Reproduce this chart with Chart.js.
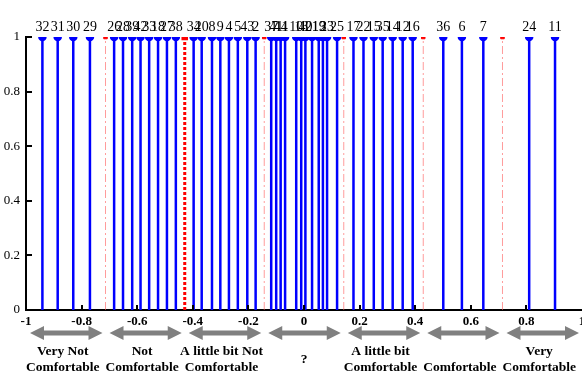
<!DOCTYPE html>
<html lang="en">
  <head>
    <meta charset="UTF-8" />
    <title>Comfort votes</title>
    <script src="https://cdn.jsdelivr.net/npm/chart.js"></script>
    <style>
      body {
        margin: 0;
        background-color: #ffffff;
      }
      .chart-box {
        position: relative;
        width: 582px;
        height: 376px;
      }
    </style>
  </head>
  <body>
    <div class="chart-box">
      <canvas id="stemChart"></canvas>
    </div>

    <script>
      // vote positions on the comfort scale (-1 .. 1), each stem has height 1
      const stemX = [
        -0.941, -0.886, -0.83, -0.77,
        -0.683, -0.651, -0.618, -0.588, -0.557, -0.525, -0.493, -0.461,
        -0.397, -0.368, -0.331, -0.301, -0.27, -0.238, -0.204, -0.174,
        -0.118, -0.1, -0.084, -0.068, -0.028, -0.01, 0.005, 0.029, 0.053, 0.068, 0.083, 0.119,
        0.178, 0.214, 0.251, 0.283, 0.319, 0.355, 0.391,
        0.501, 0.568, 0.645,
        0.81, 0.903,
      ];
      const stemLabels = [
        "32", "31", "30", "29",
        "26", "28", "39", "42", "33", "18", "27", "38",
        "34", "20", "8", "9", "4", "5", "43", "2",
        "37", "41", "44", "1", "10", "13", "40", "21", "19", "3", "23", "25",
        "17", "22", "15", "35", "14", "12", "16",
        "36", "6", "7",
        "24", "11",
      ];
      // red class boundaries
      const boundaries = [-0.714, -0.429, -0.143, 0.143, 0.429, 0.714];
      const categoryLabels = [
        ["Very Not", "Comfortable"],
        ["Not", "Comfortable"],
        ["A little bit Not", "Comfortable"],
        ["?"],
        ["A little bit", "Comfortable"],
        ["", "Comfortable"],
        ["Very", "Comfortable"],
      ];
      const xTicks = [-0.8, -0.6, -0.4, -0.2, 0, 0.2, 0.4, 0.6, 0.8];
      const yTicks = [0.2, 0.4, 0.6, 0.8, 1];

      const SERIF = "'Liberation Serif', 'DejaVu Serif', serif";

      function stemPoints(xs) {
        const pts = [];
        xs.forEach((x) => {
          pts.push({ x: x, y: 0 }, { x: x, y: 1 }, { x: x, y: null });
        });
        return pts;
      }

      function shortNum(v) {
        return String(Number(v.toFixed(1)));
      }

      // labels above the stems, inward tick marks, arrows + class names
      const decorations = {
        id: "decorations",
        afterDatasetsDraw(chart) {
          const ctx = chart.ctx;
          const xs = chart.scales.x;
          const ys = chart.scales.y;
          const top = ys.getPixelForValue(1);
          const bottom = ys.getPixelForValue(0);
          const left = xs.getPixelForValue(-1);
          ctx.save();

          // numbers above stems
          ctx.fillStyle = "#000";
          ctx.font = "14px " + SERIF;
          ctx.textAlign = "center";
          ctx.textBaseline = "alphabetic";
          stemX.forEach((x, i) => {
            ctx.fillText(stemLabels[i], xs.getPixelForValue(x), top - 6);
          });

          // tick marks pointing inside
          ctx.strokeStyle = "#000";
          ctx.lineWidth = 2;
          ctx.beginPath();
          xTicks.forEach((t) => {
            const px = Math.round(xs.getPixelForValue(t));
            ctx.moveTo(px, bottom);
            ctx.lineTo(px, bottom - 5);
          });
          yTicks.forEach((t) => {
            const py = Math.round(ys.getPixelForValue(t));
            ctx.moveTo(left, py);
            ctx.lineTo(left + 6, py);
          });
          ctx.stroke();

          // double arrows + category names
          const edges = [-1].concat(boundaries, [1]);
          const ay = 333;
          ctx.fillStyle = "#808080";
          for (let i = 0; i < edges.length - 1; i++) {
            const x0 = xs.getPixelForValue(edges[i]) + 4;
            const x1 = Math.min(xs.getPixelForValue(edges[i + 1]) - 3, chart.width - 2);
            ctx.fillRect(x0 + 12, ay - 2.5, x1 - x0 - 24, 5);
            ctx.beginPath();
            ctx.moveTo(x0, ay);
            ctx.lineTo(x0 + 14, ay - 7);
            ctx.lineTo(x0 + 14, ay + 7);
            ctx.closePath();
            ctx.moveTo(x1, ay);
            ctx.lineTo(x1 - 14, ay - 7);
            ctx.lineTo(x1 - 14, ay + 7);
            ctx.closePath();
            ctx.fill();
          }

          ctx.fillStyle = "#000";
          ctx.font = "bold 13.5px " + SERIF;
          ctx.textBaseline = "middle";
          categoryLabels.forEach((lines, i) => {
            const cx =
              (xs.getPixelForValue(edges[i]) + xs.getPixelForValue(edges[i + 1])) / 2 - 3;
            if (lines.length === 1) {
              ctx.fillText(lines[0], cx + 3, 360);
            } else {
              ctx.fillText(lines[0], cx, 352);
              ctx.fillText(lines[1], cx, 368);
            }
          });
          ctx.restore();
        },
      };

      new Chart(document.getElementById("stemChart"), {
        type: "line",
        data: {
          datasets: [
            {
              label: "boundaries",
              data: stemPoints(boundaries.filter((b) => b !== -0.429)),
              borderColor: "rgba(255, 90, 90, 0.6)",
              borderWidth: 1,
              borderDash: [8, 3, 2, 3],
              pointStyle: "rect",
              pointRadius: (c) => (c.raw && c.raw.y === 1 ? 2.5 : 0),
              pointBackgroundColor: "#ff0000",
              pointBorderColor: "#ff0000",
              spanGaps: false,
            },
            {
              label: "main boundary",
              data: stemPoints([-0.429]),
              borderColor: "#ff0000",
              borderWidth: 3,
              borderDash: [3, 2],
              pointStyle: "rect",
              pointRadius: (c) => (c.raw && c.raw.y === 1 ? 2.5 : 0),
              pointBackgroundColor: "#ff0000",
              pointBorderColor: "#ff0000",
              spanGaps: false,
            },
            {
              label: "votes",
              data: stemPoints(stemX),
              borderColor: "#0000ff",
              borderWidth: 2.5,
              pointRadius: (c) => (c.raw && c.raw.y === 1 ? 3 : 0),
              pointBackgroundColor: "#0000ff",
              pointBorderColor: "#0000ff",
              spanGaps: false,
            },
          ],
        },
        options: {
          responsive: true,
          maintainAspectRatio: false,
          animation: false,
          layout: { padding: { top: 37, right: 0, left: 0, bottom: 0 } },
          plugins: {
            legend: { display: false },
            tooltip: { enabled: false },
          },
          scales: {
            x: {
              type: "linear",
              min: -1,
              max: 1,
              grid: { display: false, drawTicks: false },
              border: { display: true, color: "#000", width: 2 },
              ticks: {
                stepSize: 0.2,
                color: "#000",
                padding: 4,
                maxRotation: 0,
                font: { family: SERIF, size: 13, weight: "bold" },
                callback: (v) => shortNum(v),
              },
              afterFit: (scale) => {
                scale.height = 66;
                scale.paddingLeft = 0;
                scale.paddingRight = 0;
              },
            },
            y: {
              min: 0,
              max: 1,
              grid: { display: false, drawTicks: false },
              border: { display: true, color: "#000", width: 2 },
              ticks: {
                stepSize: 0.2,
                color: "#000",
                padding: 6,
                font: { family: SERIF, size: 13 },
                callback: (v) => shortNum(v),
              },
              afterFit: (scale) => {
                scale.width = 26;
                scale.paddingTop = 0;
                scale.paddingBottom = 0;
              },
            },
          },
        },
        plugins: [decorations],
      });
    </script>
  </body>
</html>
